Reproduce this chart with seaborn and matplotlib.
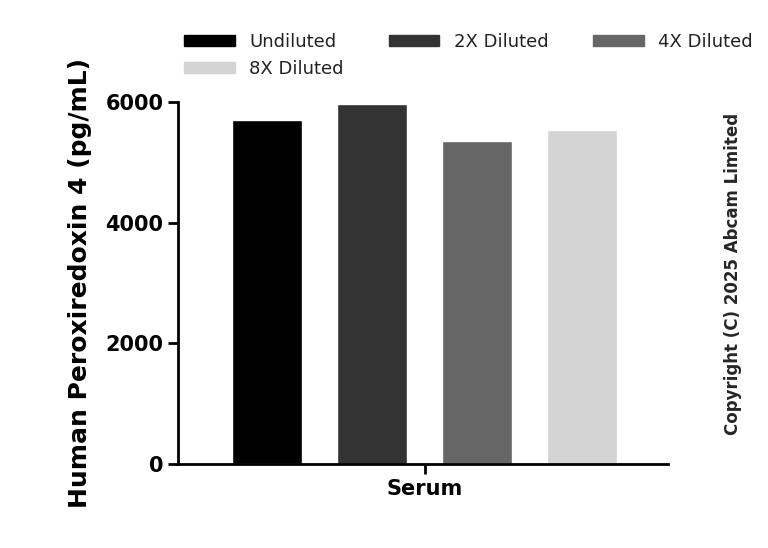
import matplotlib
matplotlib.use("Agg")
import matplotlib.pyplot as plt
import seaborn as sns
import pandas as pd

samples = ["Undiluted", "2X Diluted", "4X Diluted", "8X Diluted"]
values = [5700, 5960, 5360, 5530]
colors = ["#000000", "#333333", "#666666", "#d4d4d4"]

sns.set_style("ticks")
plt.rcParams['font.family'] = ['DejaVu Sans']
df = pd.DataFrame({"s": samples, "v": values})
fig = plt.figure(figsize=(7.68, 5.48), dpi=100)
ax = fig.add_axes([0.232, 0.153, 0.638, 0.661])
sns.barplot(data=df, x="s", y="v", hue="s", palette=colors, width=0.667, ax=ax, legend=False)
ax.set_xlim(-0.848, 3.82)
ax.set_ylim(0, 6000)
ax.set_yticks([0, 2000, 4000, 6000])
ax.set_yticklabels(["0", "2000", "4000", "6000"], fontsize=15, fontweight="bold", color="black")
ax.set_xticks([1.5])
ax.set_xticklabels(["Serum"], fontsize=15, fontweight="bold", color="black")
ax.set_xlabel("")
ax.set_ylabel("Human Peroxiredoxin 4 (pg/mL)", fontsize=18, fontweight="bold", labelpad=10, color="black")
for s in ["top", "right"]:
    ax.spines[s].set_visible(False)
for s in ["left", "bottom"]:
    ax.spines[s].set_linewidth(2)
    ax.spines[s].set_color("black")
ax.tick_params(width=2, length=7, color="black")
handles = [plt.Rectangle((0, 0), 1, 1, color=c) for c in colors]
order = [0, 3, 1, 2]
fig.legend([handles[i] for i in order], [samples[i] for i in order], loc="upper center",
           bbox_to_anchor=(0.61, 0.97), ncol=3, frameon=False, fontsize=13,
           handlelength=2.8, handleheight=0.6, columnspacing=2.5, labelcolor="#222222")
fig.text(0.955, 0.5, "Copyright (C) 2025 Abcam Limited", rotation=90, ha="center", va="center",
         fontsize=12, fontweight="bold")
fig.savefig("out.png", dpi=100)
